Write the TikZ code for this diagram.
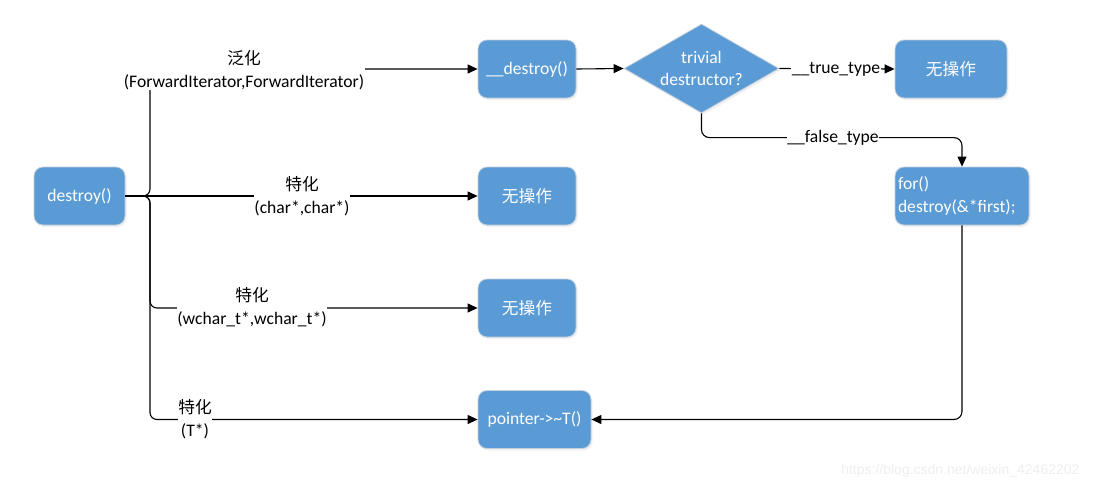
\documentclass[tikz,border=0pt]{standalone}
\usepackage{fontspec}
\setmainfont{Carlito}
\newfontfamily\cjkfont{Noto Sans CJK SC}[Scale=0.95]
\newfontfamily\wmfont{Liberation Sans}
\usetikzlibrary{arrows.meta,shapes.geometric,shadows}

\definecolor{boxblue}{RGB}{91,155,213}
\definecolor{boxline}{RGB}{196,208,222}
\definecolor{wmgray}{RGB}{238,238,238}

\tikzset{
  box/.style={draw=boxline, line width=0.8pt, fill=boxblue, rounded corners=9pt,
    text=white, minimum height=58pt, inner sep=2pt,
    drop shadow={opacity=0.12, shadow xshift=1.5pt, shadow yshift=-2pt}},
  decide/.style={diamond, draw=boxline, line width=0.8pt, fill=boxblue, text=white,
    aspect=1.74, inner sep=0pt, minimum width=155pt, minimum height=89pt,
    align=center, drop shadow={opacity=0.12, shadow xshift=1.5pt, shadow yshift=-2pt}},
  lbl/.style={fill=white, align=center, inner sep=0.5pt},
  arr/.style={-{Triangle[length=10pt,width=9pt]}, line width=1.1pt}
}

\begin{document}
\begin{tikzpicture}[x=1pt, y=-1pt, font=\fontsize{17.6}{22.5}\selectfont]
  \useasboundingbox (0,0) rectangle (1093,491);

  % boxes
  \node[box, minimum width=91pt] (destroy) at (79.5,196) {destroy()};
  \node[box, minimum width=98pt] (dd) at (527,69) {\_\_destroy()};
  \node[decide] (trivial) at (701.5,68.5) {trivial\\destructor?};
  \node[box, minimum width=112pt] (noop1) at (951,69) {\cjkfont 无操作};
  \node[box, text width=128pt, inner xsep=3pt, align=left] (loop) at (962,196) {for()\\destroy(\&*first);};
  \node[box, minimum width=98pt] (noop2) at (527,196) {\cjkfont 无操作};
  \node[box, minimum width=98pt] (noop3) at (527,308) {\cjkfont 无操作};
  \node[box, minimum width=113pt] (ptr) at (534.5,419.5) {pointer->\textasciitilde T()};

  % fork of destroy()
  \coordinate (fork) at (150,196);
  \draw[arr, rounded corners=7pt] (destroy.east) -| (fork |- dd.west) -- (dd.west);
  \draw[arr] (destroy.east) -- (noop2.west);
  \draw[arr, rounded corners=7pt] (destroy.east) -| (fork |- noop3.west) -- (noop3.west);
  \draw[arr, rounded corners=7pt] (destroy.east) -| (fork |- ptr.west) -- (ptr.west);

  \draw[arr] (dd.east) -- (trivial.west);
  \draw[arr] (trivial.east) -- (noop1.west);
  \draw[arr, rounded corners=8pt] (trivial.south) |- ([yshift=29pt]loop.north) -- (loop.north);
  \draw[arr, rounded corners=8pt] (loop.south) |- (ptr.east);

  % labels
  \node[lbl] (generic) at (244,70) {{\cjkfont 泛化}\\(ForwardIterator,ForwardIterator)};
  \node[lbl] (charspec) at (302,196) {{\cjkfont 特化}\\(char*,char*)};
  \node[lbl] (wcharspec) at (252,307) {{\cjkfont 特化}\\(wchar\_t*,wchar\_t*)};
  \node[lbl] (ptrspec) at (195,419) {{\cjkfont 特化}\\(T*)};
  \node[lbl] (truetype) at (836,69) {\_\_true\_type};
  \node[lbl] (falsetype) at (833,138) {\_\_false\_type};

  \node[text=wmgray, font=\wmfont\fontsize{14}{16}\selectfont, anchor=east] (watermark) at (1083,471) {https://blog.csdn.net/weixin\_42462202};
\end{tikzpicture}
\end{document}
